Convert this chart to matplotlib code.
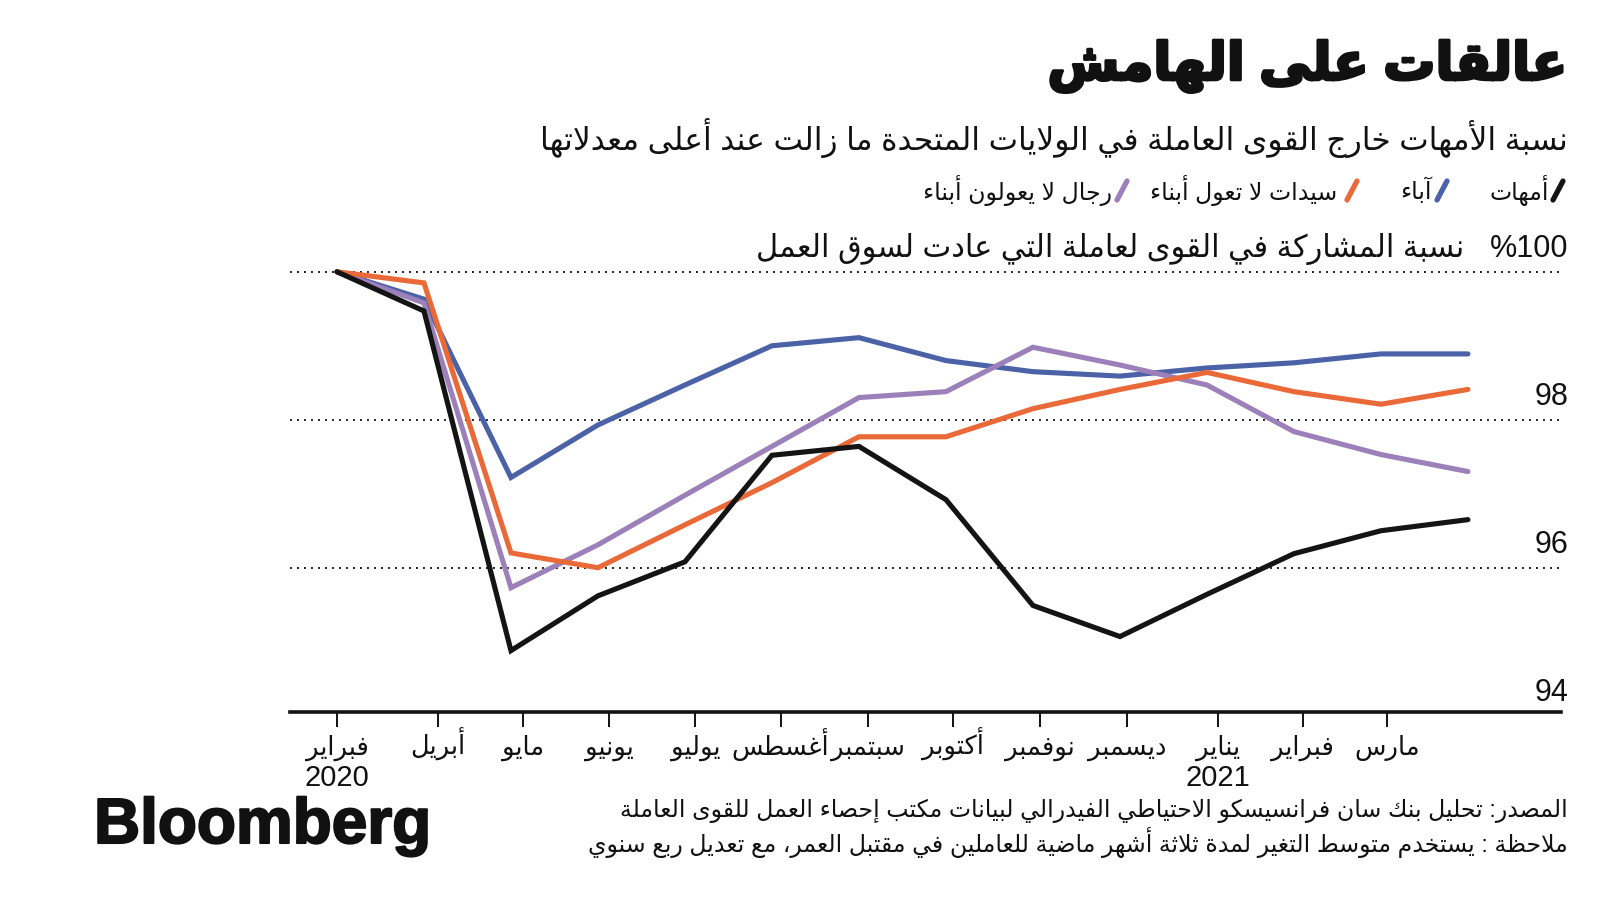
import re
import matplotlib
matplotlib.use('Agg')
import matplotlib.pyplot as plt
import matplotlib.patheffects as pe
from matplotlib.lines import Line2D
from matplotlib.transforms import blended_transform_factory

# ---- data ----
months = ['فبراير', 'أبريل', 'مايو', 'يونيو', 'يوليو', 'أغسطس', 'سبتمبر',
          'أكتوبر', 'نوفمبر', 'ديسمبر', 'يناير', 'فبراير', 'مارس']
years = ['2020', '', '', '', '', '', '', '', '', '', '2021', '', '']
tick_pos = [0, 1.16, 2.14, 3.13, 4.12, 5.1, 6.1, 7.08, 8.08, 9.08, 10.13, 11.1, 12.07]

mothers = [100, 99.47, 94.88, 95.62, 96.08, 97.52, 97.64, 96.92, 95.49, 95.07, 95.64, 96.19, 96.50, 96.65]
fathers = [100, 99.63, 97.22, 97.93, 98.47, 99.0, 99.11, 98.80, 98.65, 98.59, 98.70, 98.77, 98.89, 98.89]
women_nokids = [100, 99.85, 96.20, 96.0, 96.58, 97.15, 97.77, 97.77, 98.15, 98.41, 98.64, 98.38, 98.21, 98.41]
men_nokids = [100, 99.58, 95.73, 96.31, 96.98, 97.64, 98.30, 98.38, 98.98, 98.74, 98.47, 97.84, 97.53, 97.30]

title = 'عالقات على الهامش'
subtitle = 'نسبة الأمهات خارج القوى العاملة في الولايات المتحدة ما زالت عند أعلى معدلاتها'
axis_title = 'نسبة المشاركة في القوى لعاملة التي عادت لسوق العمل'
legend_names = ['أمهات', 'آباء', 'سيدات لا تعول أبناء', 'رجال لا يعولون أبناء']
source = 'المصدر: تحليل بنك سان فرانسيسكو الاحتياطي الفيدرالي لبيانات مكتب إحصاء العمل للقوى العاملة'
note = 'ملاحظة : يستخدم متوسط التغير لمدة ثلاثة أشهر ماضية للعاملين في مقتبل العمر، مع تعديل ربع سنوي'

colors = ['#141414', '#4b63a6', '#e96a38', '#9c80ba']

# ---- minimal arabic shaping (matplotlib has no RTL layout) ----
FORMS = {
    'ء': (0xFE80, 1), 'آ': (0xFE81, 2), 'أ': (0xFE83, 2), 'ؤ': (0xFE85, 2),
    'إ': (0xFE87, 2), 'ئ': (0xFE89, 4), 'ا': (0xFE8D, 2), 'ب': (0xFE8F, 4),
    'ة': (0xFE93, 2), 'ت': (0xFE95, 4), 'ث': (0xFE99, 4), 'ج': (0xFE9D, 4),
    'ح': (0xFEA1, 4), 'خ': (0xFEA5, 4), 'د': (0xFEA9, 2), 'ذ': (0xFEAB, 2),
    'ر': (0xFEAD, 2), 'ز': (0xFEAF, 2), 'س': (0xFEB1, 4), 'ش': (0xFEB5, 4),
    'ص': (0xFEB9, 4), 'ض': (0xFEBD, 4), 'ط': (0xFEC1, 4), 'ظ': (0xFEC5, 4),
    'ع': (0xFEC9, 4), 'غ': (0xFECD, 4), 'ف': (0xFED1, 4), 'ق': (0xFED5, 4),
    'ك': (0xFED9, 4), 'ل': (0xFEDD, 4), 'م': (0xFEE1, 4), 'ن': (0xFEE5, 4),
    'ه': (0xFEE9, 4), 'و': (0xFEED, 2), 'ى': (0xFEEF, 2), 'ي': (0xFEF1, 4),
}
LAM_ALEF = {'آ': 0xFEF5, 'أ': 0xFEF7, 'إ': 0xFEF9, 'ا': 0xFEFB}


def ar(text):
    units = []
    i = 0
    while i < len(text):
        c = text[i]
        if c == 'ل' and i + 1 < len(text) and text[i + 1] in LAM_ALEF:
            units.append((LAM_ALEF[text[i + 1]], 2))
            i += 2
        elif c in FORMS:
            units.append(FORMS[c])
            i += 1
        else:
            units.append((c, 0))
            i += 1
    out = []
    for k, (base, n) in enumerate(units):
        if n == 0:
            out.append(base)
            continue
        prev = k > 0 and units[k - 1][1] == 4
        nxt = k + 1 < len(units) and units[k + 1][1] >= 2
        if n == 4:
            if prev and nxt:
                off = 3
            elif nxt:
                off = 2
            elif prev:
                off = 1
            else:
                off = 0
        elif n == 2:
            off = 1 if prev else 0
        else:
            off = 0
        out.append(chr(base + off))
    vis = ''.join(out)[::-1]
    return re.sub(r'[0-9A-Za-z%.]+', lambda m: m.group(0)[::-1], vis)


plt.rcParams['font.family'] = ['Liberation Sans', 'DejaVu Sans']

W, H = 1600, 900
fig = plt.figure(figsize=(16, 9), dpi=100)


def fx(x):
    return x / W


def fy(y):
    return 1 - y / H


ax = fig.add_axes([fx(290), fy(712), fx(1561) - fx(290), fy(257) - fy(712)])
x = list(range(len(mothers)))
series = [fathers, men_nokids, women_nokids, mothers]
order_colors = [colors[1], colors[3], colors[2], colors[0]]
for s, c in zip(series, order_colors):
    ax.plot(x, s, color=c, lw=3.7, solid_capstyle='round', solid_joinstyle='miter')

ax.set_xlim(-0.54, 14.07)
ax.set_ylim(94.05, 100.2)
for v in [96, 98, 100]:
    ax.axhline(v, color='#222222', lw=1.4, ls=(0, (1, 2.6)), zorder=0)

for side in ['top', 'right', 'left']:
    ax.spines[side].set_visible(False)
ax.spines['bottom'].set_linewidth(2.6)
ax.spines['bottom'].set_color('#111111')
ax.set_yticks([])
ax.set_xticks(tick_pos)
ax.set_xticklabels([])
ax.tick_params(axis='x', length=11, width=1.4, color='#111111')

trx = blended_transform_factory(ax.transData, ax.transAxes)
for p, m, yr in zip(tick_pos, months, years):
    ax.annotate(ar(m), xy=(p, 0), xycoords=trx, xytext=(0, -43), textcoords='offset pixels',
                ha='center', va='baseline', fontsize=18.5, color='#111111', annotation_clip=False)
    if yr:
        ax.annotate(yr, xy=(p, 0), xycoords=trx, xytext=(0, -74), textcoords='offset pixels',
                    ha='center', va='baseline', fontsize=21, color='#111111', annotation_clip=False)

tr = blended_transform_factory(ax.transAxes, ax.transData)
for v in [94, 96, 98]:
    ax.annotate(str(v), xy=(1, v), xycoords=tr, xytext=(7, 15), textcoords='offset pixels',
                ha='right', va='baseline', fontsize=22, color='#111111', annotation_clip=False)
ax.annotate('%100', xy=(1, 100), xycoords=tr, xytext=(7, 15), textcoords='offset pixels',
            ha='right', va='baseline', fontsize=22, color='#111111', annotation_clip=False)
ax.annotate(ar(axis_title), xy=(1, 100), xycoords=tr, xytext=(-97, 15), textcoords='offset pixels',
            ha='right', va='baseline', fontsize=22, color='#111111', annotation_clip=False)

# titles
fig.text(fx(1568), fy(66), ar(title), ha='right', va='center', fontsize=37.5,
         fontweight='bold', color='#111111',
         path_effects=[pe.withStroke(linewidth=2.2, foreground='#111111')])
fig.text(fx(1568), fy(138), ar(subtitle), ha='right', va='center', fontsize=22.5, color='#111111')

# legend
slash_x = [1558, 1442, 1352, 1122]
text_right = [1549, 1432, 1337, 1112]
for name, c, sx, tx in zip(legend_names, colors, slash_x, text_right):
    fig.add_artist(Line2D([fx(sx - 5), fx(sx + 5)], [fy(200), fy(181)], color=c, lw=3.8,
                          solid_capstyle='round', transform=fig.transFigure))
    fig.text(fx(tx), fy(191), ar(name), ha='right', va='center', fontsize=17, color='#111111')

# footer
fig.text(fx(94), fy(826), 'Bloomberg', ha='left', va='center', fontsize=46,
         fontweight='bold', color='#111111',
         path_effects=[pe.withStroke(linewidth=1.5, foreground='#111111')])
fig.text(fx(1568), fy(811), ar(source), ha='right', va='center', fontsize=17, color='#111111')
fig.text(fx(1568), fy(843), ar(note), ha='right', va='center', fontsize=17, color='#111111')

fig.savefig('out.png', dpi=100, facecolor='white')
